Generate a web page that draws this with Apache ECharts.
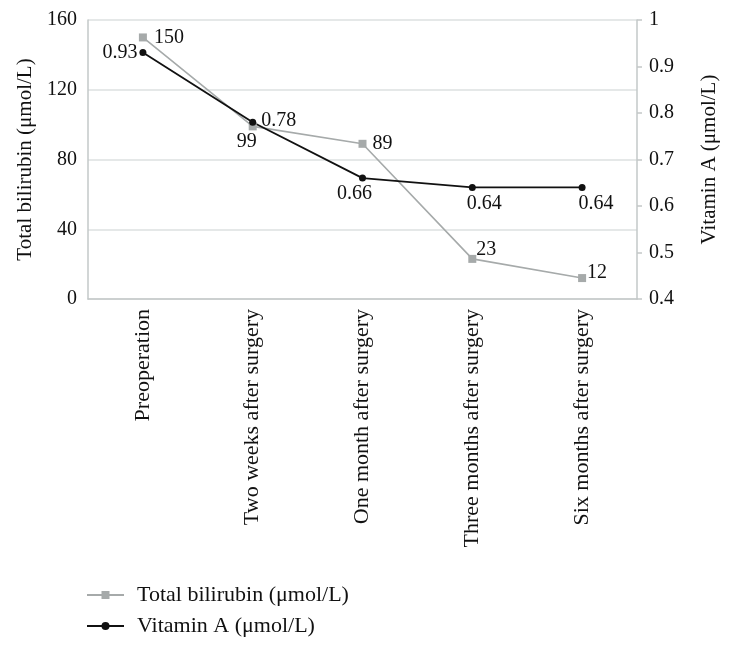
<!DOCTYPE html>
<html><head><meta charset="utf-8">
<script src="https://cdn.jsdelivr.net/npm/echarts@6/dist/echarts.min.js"></script>
<style>html,body{margin:0;padding:0;background:#fff}#c{width:732px;height:647px}</style>
</head><body><div id="c"></div>
<script>
const categories = ['Preoperation','Two weeks after surgery','One month after surgery','Three months after surgery','Six months after surgery'];
const bilirubin = [150, 99, 89, 23, 12];
const vitaminA = [0.93, 0.78, 0.66, 0.64, 0.64];
const leftTicks = [0, 40, 80, 120, 160];
const rightTicks = [0.4, 0.5, 0.6, 0.7, 0.8, 0.9, 1];

// label placement (styling only)
const bilLabel = [
  {position:'right', offset:[1,0]},
  {position:'bottom', offset:[-6,-5]},
  {position:'right', offset:[0,0]},
  {position:'top', offset:[14,11]},
  {position:'right', offset:[-5,-5]}
];
const vitLabel = [
  {position:'left', offset:[2,0]},
  {position:'right', offset:[1,-2]},
  {position:'bottom', offset:[-8,-2]},
  {position:'bottom', offset:[12,-1]},
  {position:'bottom', offset:[14,-1]}
];

const font = '"Liberation Serif", "DejaVu Serif", serif';
const chart = echarts.init(document.getElementById('c'), null, {renderer:'canvas'});
chart.setOption({
  animation:false,
  textStyle:{fontFamily:font},
  grid:{left:88, right:95, top:20, bottom:348},
  legend:{
    orient:'vertical', left:81, top:579, itemGap:9, itemWidth:37, itemHeight:10,
    textStyle:{fontFamily:font, fontSize:22, color:'#111', padding:[0,0,0,8]},
    data:['Total bilirubin (\u03bcmol/L)','Vitamin A (\u03bcmol/L)']
  },
  xAxis:{
    type:'category', data:categories, boundaryGap:true,
    axisLine:{lineStyle:{color:'#c3c8c8', width:1.5}},
    axisTick:{show:false},
    axisLabel:{rotate:90, margin:10, fontFamily:font, fontSize:22, color:'#111'}
  },
  yAxis:[
    {type:'value', min:leftTicks[0], max:leftTicks[leftTicks.length-1], interval:40,
     name:'Total bilirubin (\u03bcmol/L)', nameLocation:'middle', nameRotate:90, nameGap:51,
     nameTextStyle:{fontFamily:font, fontSize:21, color:'#111'},
     axisLine:{show:true, lineStyle:{color:'#c3c8c8', width:1.5}},
     axisTick:{show:false},
     axisLabel:{margin:11, fontFamily:font, fontSize:20, color:'#111'},
     splitLine:{lineStyle:{color:'#dce0e0', width:1.5}}},
    {type:'value', min:rightTicks[0], max:rightTicks[rightTicks.length-1], interval:0.1,
     name:'Vitamin A (\u03bcmol/L)', nameLocation:'middle', nameRotate:90, nameGap:62,
     nameTextStyle:{fontFamily:font, fontSize:21, color:'#111'},
     axisLine:{show:true, lineStyle:{color:'#c3c8c8', width:1.5}},
     axisTick:{show:true, length:5, lineStyle:{color:'#c3c8c8', width:1.5}},
     axisLabel:{margin:12, fontFamily:font, fontSize:20, color:'#111',
       formatter:function(v){return String(Math.round(v*10)/10);}},
     splitLine:{show:false}}
  ],
  series:[
    {name:'Total bilirubin (\u03bcmol/L)', type:'line', yAxisIndex:0,
     data:bilirubin.map((v,i)=>({value:v, label:bilLabel[i]})),
     symbol:'rect', symbolSize:8,
     lineStyle:{color:'#a6aaaa', width:1.6}, itemStyle:{color:'#a6aaaa'},
     label:{show:true, fontFamily:font, fontSize:20, color:'#111', distance:6}},
    {name:'Vitamin A (\u03bcmol/L)', type:'line', yAxisIndex:1,
     data:vitaminA.map((v,i)=>({value:v, label:vitLabel[i]})),
     symbol:'circle', symbolSize:7,
     lineStyle:{color:'#111', width:1.8}, itemStyle:{color:'#111'},
     label:{show:true, fontFamily:font, fontSize:20, color:'#111', distance:4,
       formatter:function(p){return p.value.toFixed(2);}}}
  ]
});
</script></body></html>
